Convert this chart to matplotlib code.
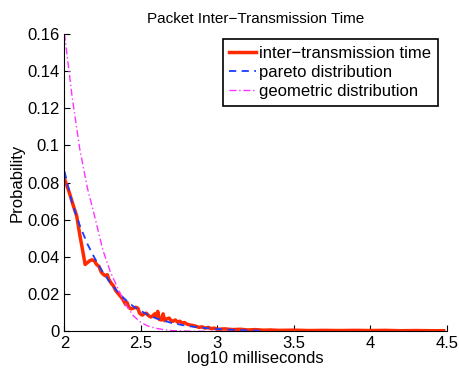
import matplotlib
matplotlib.use("Agg")
import matplotlib.pyplot as plt

plt.rcParams["font.family"] = ["Liberation Sans", "DejaVu Sans"]

trace_x = [2.00, 2.03, 2.06, 2.08, 2.10, 2.12, 2.135, 2.15, 2.165, 2.18, 2.195,
           2.21, 2.225, 2.24, 2.25, 2.265, 2.28, 2.29, 2.305, 2.32, 2.335, 2.35,
           2.365, 2.38, 2.39, 2.40, 2.41, 2.42, 2.435, 2.45, 2.465, 2.48, 2.49,
           2.50, 2.51, 2.52, 2.535, 2.55, 2.565, 2.575, 2.59, 2.60, 2.61, 2.62,
           2.635, 2.645, 2.655, 2.67, 2.685, 2.695, 2.71, 2.725, 2.74, 2.755,
           2.77, 2.785, 2.80, 2.82, 2.84, 2.86, 2.88, 2.90, 2.92, 2.94, 2.96,
           2.98, 3.00, 3.05, 3.10, 3.15, 3.20, 3.25, 3.30, 3.35, 3.40, 3.50,
           3.60, 3.70, 3.80, 3.90, 4.00, 4.10, 4.20, 4.30, 4.40, 4.48]
trace_p = [0.082, 0.075, 0.067, 0.062, 0.052, 0.043, 0.036, 0.037, 0.038, 0.0385, 0.038,
           0.036, 0.035, 0.032, 0.031, 0.030, 0.0305, 0.028, 0.026, 0.0245, 0.022, 0.0205,
           0.019, 0.0175, 0.016, 0.0145, 0.0155, 0.013, 0.0122, 0.0125, 0.013, 0.0125, 0.010,
           0.0092, 0.0088, 0.0095, 0.0098, 0.0085, 0.0078, 0.0082, 0.0095, 0.0075, 0.0108, 0.0065,
           0.0062, 0.0095, 0.0058, 0.0068, 0.0072, 0.0060, 0.0055, 0.0062, 0.0050, 0.0055,
           0.0045, 0.0048, 0.0040, 0.0035, 0.0032, 0.0028, 0.0022, 0.0025, 0.0018, 0.0022, 0.0015,
           0.0018, 0.0012, 0.0014, 0.0010, 0.0012, 0.0008, 0.0010, 0.0007, 0.0008, 0.0006, 0.0007,
           0.0005, 0.0006, 0.0005, 0.0006, 0.0005, 0.0006, 0.0004, 0.0005, 0.0004, 0.0004]

# fitted pareto
pareto_x = [2.0, 2.05, 2.1, 2.15, 2.2, 2.25, 2.3, 2.35, 2.4, 2.45, 2.5, 2.55,
            2.6, 2.7, 2.8, 2.9, 3.0, 3.1, 3.2, 3.3]
pareto_p = [0.086, 0.069, 0.057, 0.047, 0.039, 0.032, 0.026, 0.021, 0.017, 0.0135,
            0.011, 0.0088, 0.007, 0.0046, 0.003, 0.002, 0.0013, 0.0009, 0.0006, 0.0004]

# fitted geometric
geom_x = [2.0, 2.05, 2.1, 2.15, 2.2, 2.25, 2.3, 2.35, 2.4, 2.45, 2.5, 2.55,
          2.6, 2.65, 2.7, 2.8, 3.0, 3.3]
geom_p = [0.16, 0.126, 0.098, 0.077, 0.061, 0.044, 0.032, 0.023, 0.0145, 0.0085,
          0.0048, 0.0028, 0.0017, 0.001, 0.0005, 0.0002, 0.0, 0.0]

x_ticks = [2, 2.5, 3, 3.5, 4, 4.5]
x_tick_labels = ["2", "2.5", "3", "3.5", "4", "4.5"]
y_ticks = [0, 0.02, 0.04, 0.06, 0.08, 0.1, 0.12, 0.14, 0.16]
y_tick_labels = ["0", "0.02", "0.04", "0.06", "0.08", "0.1", "0.12", "0.14", "0.16"]

fig = plt.figure(figsize=(4.59, 3.73), dpi=100)
ax = fig.add_axes([0.1405, 0.1113, 0.8327, 0.7984])

ax.plot(trace_x, trace_p, color="#ff2a00", lw=2.5, label="inter\u2212transmission time")
ax.plot(pareto_x, pareto_p, color="#1a3cff", lw=1.3, ls=(0, (4, 3)), label="pareto distribution")
ax.plot(geom_x, geom_p, color="#ff33ff", lw=1.0, ls=(0, (5, 2, 1, 2)), label="geometric distribution")

ax.set_xlim(2, 4.5)
ax.set_ylim(0, 0.16)
ax.set_xticks(x_ticks)
ax.set_xticklabels(x_tick_labels)
ax.set_yticks(y_ticks)
ax.set_yticklabels(y_tick_labels)
ax.tick_params(direction="in", length=4, labelsize=12, top=False, right=False)
for side in ("top", "right"):
  ax.spines[side].set_visible(False)

ax.set_title("Packet Inter\u2212Transmission Time", fontsize=11, pad=8)
ax.set_xlabel("log10 milliseconds", fontsize=12, labelpad=0)
ax.set_ylabel("Probability", fontsize=12, labelpad=2)

leg = ax.legend(loc="upper right", bbox_to_anchor=(438 / 459, 1 - 39 / 373),
                bbox_transform=fig.transFigure, borderaxespad=0, fontsize=12,
                fancybox=False, framealpha=1, edgecolor="black",
                handlelength=1.6, handletextpad=0.2, labelspacing=0.25,
                borderpad=0.4)
leg.get_frame().set_linewidth(1.2)

fig.savefig("out.png", dpi=100)
